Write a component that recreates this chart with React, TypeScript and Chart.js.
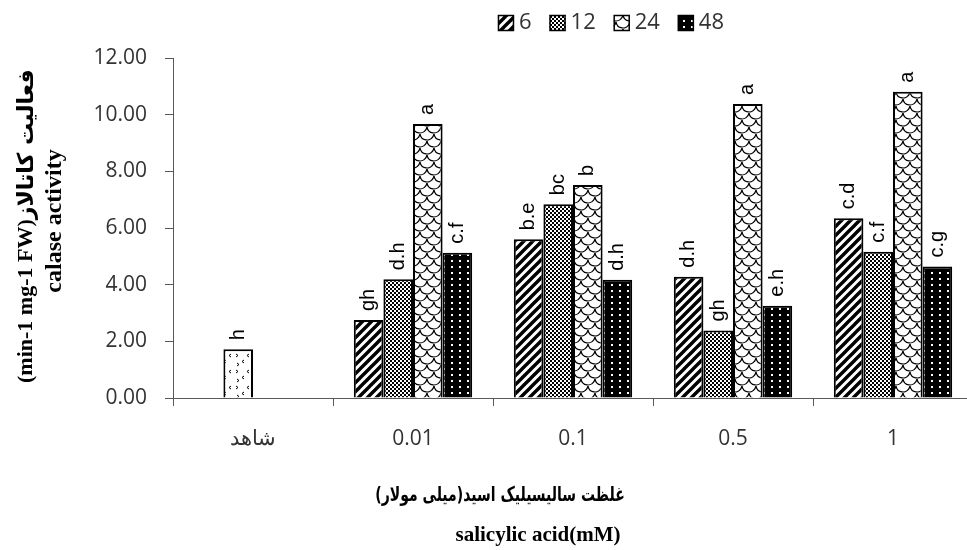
import React, { useEffect, useRef } from 'react';
import { Chart, registerables } from 'chart.js';

Chart.register(...registerables);

// ---- data ----
const categories = ['شاهد', '0.01', '0.1', '0.5', '1'];
const seriesNames = ['6', '12', '24', '48'];
const values6 = [null, 2.75, 5.6, 4.28, 6.34];
const values12 = [1.72, 4.19, 6.84, 2.38, 5.16];
const values24 = [null, 9.67, 7.52, 10.38, 10.81];
const values48 = [null, 5.13, 4.17, 3.26, 4.64];
const letters6 = ['', 'gh', 'b.e', 'd.h', 'c.d'];
const letters12 = ['h', 'd.h', 'bc', 'gh', 'c.f'];
const letters24 = ['', 'a', 'b', 'a', 'a'];
const letters48 = ['', 'c.f', 'd.h', 'e.h', 'c.g'];
const yMin = 0;
const yMax = 12;
const yStep = 2;
const xTitleFa = 'غلظت سالیسیلیک اسید(میلی مولار)';
const xTitleEn = 'salicylic acid(mM)';
const yTitleUnit = '(min-1 mg-1 FW)';
const yTitleFa = 'فعالیت کاتالاز';
const yTitleEn = 'calase activity';

type Ctx = CanvasRenderingContext2D;

function tile(w: number, h: number, draw: (c: Ctx) => void): HTMLCanvasElement {
  const c = document.createElement('canvas');
  c.width = w;
  c.height = h;
  const x = c.getContext('2d') as Ctx;
  draw(x);
  return c;
}

function makePatterns(ctx: Ctx) {
  const stripes = tile(9, 9, (c) => {
    c.fillStyle = '#fff';
    c.fillRect(0, 0, 9, 9);
    c.strokeStyle = '#000';
    c.lineWidth = 3.4;
    c.beginPath();
    c.moveTo(-1, 10); c.lineTo(10, -1);
    c.moveTo(-2, 2); c.lineTo(2, -2);
    c.moveTo(7, 11); c.lineTo(11, 7);
    c.stroke();
  });
  const checker = tile(4, 4, (c) => {
    c.fillStyle = '#000';
    c.fillRect(0, 0, 4, 4);
    c.fillStyle = '#fff';
    c.fillRect(0, 0, 2, 2);
    c.fillRect(2, 2, 2, 2);
  });
  const scales = tile(14, 14, (c) => {
    c.fillStyle = '#fff';
    c.fillRect(0, 0, 14, 14);
    c.strokeStyle = '#000';
    c.lineWidth = 1.2;
    const centers = [[0, 0], [14, 0], [7, 7], [0, 14], [14, 14], [7, -7]];
    centers.forEach(([cx, cy]) => {
      c.beginPath();
      c.arc(cx, cy, 7, 0.15, Math.PI - 0.15);
      c.stroke();
    });
  });
  const dots = tile(8, 6, (c) => {
    c.fillStyle = '#000';
    c.fillRect(0, 0, 8, 6);
    c.fillStyle = '#fff';
    c.fillRect(3, 2, 2, 2);
  });
  const confetti = tile(18, 16, (c) => {
    c.fillStyle = '#fff';
    c.fillRect(0, 0, 18, 16);
    c.strokeStyle = '#000';
    c.lineWidth = 1;
    c.beginPath();
    c.moveTo(2, 2); c.lineTo(4, 3.5); c.lineTo(2, 5);
    c.moveTo(15, 2); c.lineTo(13, 3.5); c.lineTo(15, 5);
    c.moveTo(10, 8); c.lineTo(8, 9.5); c.lineTo(10, 11);
    c.moveTo(3, 11); c.lineTo(5, 12.5); c.lineTo(3, 14);
    c.stroke();
  });
  return {
    p6: ctx.createPattern(stripes, 'repeat') as CanvasPattern,
    p12: ctx.createPattern(checker, 'repeat') as CanvasPattern,
    p24: ctx.createPattern(scales, 'repeat') as CanvasPattern,
    p48: ctx.createPattern(dots, 'repeat') as CanvasPattern,
    pControl: ctx.createPattern(confetti, 'repeat') as CanvasPattern,
  };
}

export default function App() {
  const ref = useRef<HTMLCanvasElement | null>(null);

  useEffect(() => {
    const canvas = ref.current;
    if (!canvas) return;
    const ctx = canvas.getContext('2d') as Ctx;
    const p = makePatterns(ctx);
    const legendFills = [p.p6, p.p12, p.p24, p.p48];
    const allLetters = [letters6, letters12, letters24, letters48];

    const labelPlugin = {
      id: 'barLetters',
      afterDatasetsDraw(chart: any) {
        const c: Ctx = chart.ctx;
        c.save();
        c.font = '20px "Liberation Sans", Arial, sans-serif';
        c.fillStyle = '#000';
        c.textAlign = 'left';
        c.textBaseline = 'middle';
        chart.data.datasets.forEach((ds: any, di: number) => {
          const meta = chart.getDatasetMeta(di);
          meta.data.forEach((el: any, i: number) => {
            const v = ds.data[i];
            const t = allLetters[di][i];
            if (v == null || !t) return;
            c.save();
            c.translate(el.x, el.y - 9);
            c.rotate(-Math.PI / 2);
            c.fillText(t, 0, 0);
            c.restore();
          });
        });
        c.restore();
      },
    };

    const legendPlugin = {
      id: 'patternLegend',
      afterDraw(chart: any) {
        const c: Ctx = chart.ctx;
        c.save();
        c.font = '22px "Open Sans", sans-serif';
        c.textBaseline = 'middle';
        c.textAlign = 'left';
        const box = 16;
        const gap = 5;
        const spacing = 18;
        const widths = seriesNames.map((n) => box + gap + c.measureText(n).width);
        const total = widths.reduce((a, b) => a + b, 0) + spacing * (seriesNames.length - 1);
        let x = 611 - total / 2;
        const top = 15;
        seriesNames.forEach((n, i) => {
          c.fillStyle = legendFills[i];
          c.fillRect(x, top, box, box);
          c.strokeStyle = '#000';
          c.lineWidth = 1.5;
          c.strokeRect(x + 0.5, top + 0.5, box - 1, box - 1);
          c.fillStyle = '#333';
          c.fillText(n, x + box + gap, top + box / 2);
          x += widths[i] + spacing;
        });
        c.restore();
      },
    };

    const titlePlugin = {
      id: 'axisTitles',
      afterDraw(chart: any) {
        const c: Ctx = chart.ctx;
        c.save();
        c.fillStyle = '#000';
        c.textBaseline = 'middle';
        // y title, line 1 (unit + Persian), rotated
        c.save();
        c.translate(26, 383);
        c.rotate(-Math.PI / 2);
        c.textAlign = 'left';
        c.font = 'bold 22px "Liberation Serif", "Times New Roman", serif';
        c.fillText(yTitleUnit, 0, 0);
        const w = c.measureText(yTitleUnit).width;
        c.font = 'bold 22px "DejaVu Sans", sans-serif';
        c.fillText('\u202B' + yTitleFa + '\u202C', w, 1);
        c.restore();
        // y title, line 2
        c.save();
        c.translate(55, 221);
        c.rotate(-Math.PI / 2);
        c.textAlign = 'center';
        c.font = 'bold 24px "Liberation Serif", "Times New Roman", serif';
        c.fillText(yTitleEn, 0, 0);
        c.restore();
        // x title, line 1 (Persian)
        c.save();
        c.translate(500, 496);
        c.scale(0.7, 1);
        c.textAlign = 'center';
        c.font = 'bold 20px "DejaVu Sans", sans-serif';
        c.fillText('\u202B' + xTitleFa + '\u202C', 0, 0);
        c.restore();
        // x title, line 2
        c.textAlign = 'center';
        c.font = 'bold 21px "Liberation Serif", "Times New Roman", serif';
        c.fillText(xTitleEn, 538, 536);
        c.restore();
      },
    };

    const axisColor = '#595959';
    const tickFont = { family: '"Open Sans", sans-serif', size: 21 };

    const chart = new Chart(canvas, {
      type: 'bar',
      data: {
        labels: categories,
        datasets: [
          { label: seriesNames[0], data: values6, backgroundColor: p.p6 },
          { label: seriesNames[1], data: values12, backgroundColor: values12.map((_, i) => (i === 0 ? p.pControl : p.p12)) },
          { label: seriesNames[2], data: values24, backgroundColor: p.p24 },
          { label: seriesNames[3], data: values48, backgroundColor: p.p48 },
        ].map((d) => ({
          ...d,
          borderColor: '#000',
          borderWidth: 2,
          borderSkipped: 'bottom',
          barPercentage: 1,
          categoryPercentage: 0.74,
        })) as any,
      },
      options: {
        responsive: false,
        animation: false,
        events: [],
        layout: { padding: { top: 58, right: 2, left: 0, bottom: 0 } },
        plugins: {
          legend: { display: false },
          tooltip: { enabled: false },
        },
        scales: {
          x: {
            offset: true,
            grid: {
              offset: true,
              drawOnChartArea: false,
              drawTicks: true,
              tickLength: 8,
              color: axisColor,
            },
            border: { display: true, color: axisColor, width: 1 },
            ticks: {
              font: tickFont,
              color: '#333',
              padding: 20,
              maxRotation: 0,
              autoSkip: false,
            },
            title: { display: false },
            afterFit: (s: any) => {
              s.height = 152;
            },
          },
          y: {
            min: yMin,
            max: yMax,
            grid: {
              drawOnChartArea: false,
              drawTicks: true,
              tickLength: 8,
              color: axisColor,
            },
            border: { display: true, color: axisColor, width: 1 },
            ticks: {
              stepSize: yStep,
              font: tickFont,
              color: '#333',
              padding: 18,
              callback: (v: any) => Number(v).toFixed(2),
            },
            title: { display: false },
            afterFit: (s: any) => {
              s.width = 173;
            },
          },
        },
      } as any,
      plugins: [labelPlugin, legendPlugin, titlePlugin],
    });

    return () => chart.destroy();
  }, []);

  return (
    <div style={{ position: 'absolute', left: 0, top: 0, width: 967, height: 550, overflow: 'hidden', background: '#fff' }}>
      <canvas ref={ref} width={975} height={550} style={{ display: 'block', width: 975, height: 550 }} />
    </div>
  );
}
